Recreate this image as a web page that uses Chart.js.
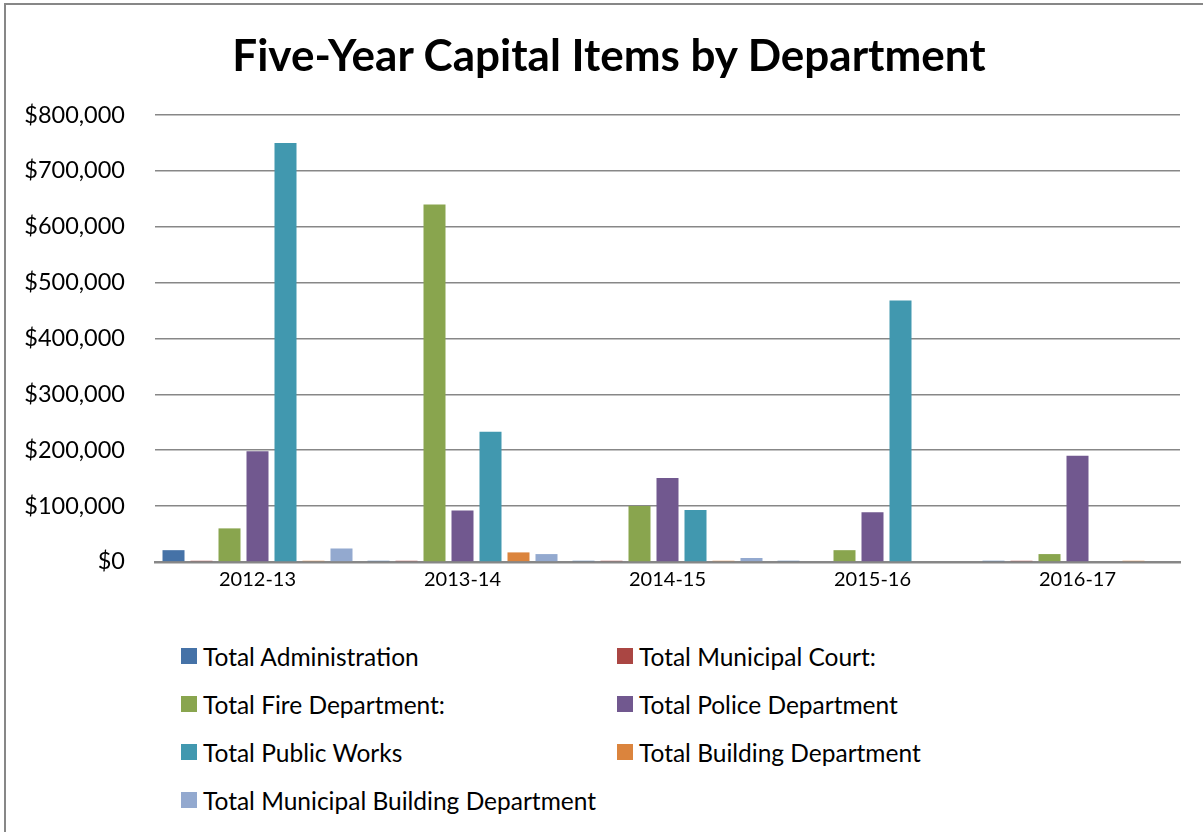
<!DOCTYPE html>
<html lang="en">
<head>
    <meta charset="UTF-8">
    <title>Five-Year Capital Items by Department</title>
    <script src="https://cdn.jsdelivr.net/npm/chart.js"></script>
    <style>
        body {
            margin: 0;
            background: #ffffff;
            overflow: hidden;
            font-family: Lato, sans-serif;
        }

        .frame {
            position: absolute;
            left: 4px;
            top: 3px;
            width: 1220px;
            height: 850px;
            border: 2px solid #878787;
            box-sizing: border-box;
        }

        .chart-title {
            position: absolute;
            left: 0;
            top: 28px;
            width: 1218px;
            margin: 0;
            text-align: center;
            font-size: 44px;
            line-height: 53px;
            font-weight: bold;
            color: #000;
        }

        .chart-box {
            position: absolute;
            left: 0;
            top: 0;
            width: 1203px;
            height: 606px;
        }

        .legend {
            position: absolute;
            left: 0;
            top: 0;
        }

        .legend-item {
            position: absolute;
            display: flex;
            align-items: center;
            height: 30px;
            font-size: 24.5px;
            color: #000;
            white-space: nowrap;
        }

        .legend-item .swatch {
            width: 16px;
            height: 16px;
            margin-right: 6px;
        }
    </style>
</head>
<body>
    <div class="frame"></div>
    <div class="chart-box">
        <canvas id="capitalChart"></canvas>
    </div>
    <h1 class="chart-title">Five-Year Capital Items by Department</h1>
    <div class="legend" id="legend"></div>

    <script>
        // fiscal years
        const years = ['2012-13', '2013-14', '2014-15', '2015-16', '2016-17'];

        // department totals
        const administration = [21000, 2000, 2000, 2000, 2000];
        const municipalCourt = [2000, 2000, 2000, 0, 2000];
        const fireDept = [60000, 640000, 100000, 21000, 14000];
        const policeDept = [198000, 92000, 150000, 89000, 190000];
        const publicWorks = [750000, 233000, 93000, 468000, 0];
        const buildingDept = [2000, 17000, 2000, 0, 2000];
        const municipalBuilding = [24000, 14000, 7000, 0, 0];

        const yTicks = [0, 100000, 200000, 300000, 400000, 500000, 600000, 700000, 800000];

        const series = [
            { label: 'Total Administration', data: administration, color: '#4572A7' },
            { label: 'Total Municipal Court:', data: municipalCourt, color: '#AA4643' },
            { label: 'Total Fire Department:', data: fireDept, color: '#89A54E' },
            { label: 'Total Police Department', data: policeDept, color: '#71588F' },
            { label: 'Total Public Works', data: publicWorks, color: '#4198AF' },
            { label: 'Total Building Department', data: buildingDept, color: '#DB843D' },
            { label: 'Total Municipal Building Department', data: municipalBuilding, color: '#93A9CF' }
        ];

        const ctx = document.getElementById('capitalChart').getContext('2d');
        const capitalChart = new Chart(ctx, {
            type: 'bar',
            data: {
                labels: years,
                datasets: series.map(s => ({
                    label: s.label,
                    data: s.data,
                    backgroundColor: s.color,
                    borderWidth: 0,
                    categoryPercentage: 0.956,
                    barPercentage: 0.786
                }))
            },
            options: {
                responsive: true,
                maintainAspectRatio: false,
                animation: false,
                layout: {
                    padding: { left: 0, right: 23, top: 115, bottom: 0 }
                },
                plugins: {
                    legend: { display: false },
                    tooltip: { enabled: false },
                    title: { display: false }
                },
                scales: {
                    x: {
                        grid: { display: false, drawTicks: false },
                        border: { display: true, color: '#878787', width: 2.5 },
                        ticks: {
                            color: '#000',
                            padding: 6,
                            font: { family: 'Lato', size: 20 }
                        },
                        afterFit: scale => { scale.height = 37; }
                    },
                    y: {
                        min: 0,
                        max: 800000,
                        afterBuildTicks: scale => {
                            scale.ticks = yTicks.map(v => ({ value: v }));
                        },
                        grid: { color: '#878787', lineWidth: 1.5, drawTicks: false },
                        border: { display: false },
                        ticks: {
                            color: '#000',
                            padding: 30,
                            font: { family: 'Lato', size: 23.5 },
                            callback: v => '$' + v.toLocaleString('en-US')
                        },
                        afterFit: scale => { scale.width = 155; }
                    }
                }
            }
        });

        // legend in two columns, built from the datasets
        const legend = document.getElementById('legend');
        const colLeft = [181, 617];
        const rowTop = 656;
        const rowGap = 48;
        series.forEach((s, i) => {
            const item = document.createElement('div');
            item.className = 'legend-item';
            item.style.left = colLeft[i % 2] + 'px';
            item.style.top = (rowTop + Math.floor(i / 2) * rowGap - 15) + 'px';
            const sw = document.createElement('span');
            sw.className = 'swatch';
            sw.style.background = s.color;
            const txt = document.createElement('span');
            txt.textContent = s.label;
            item.appendChild(sw);
            item.appendChild(txt);
            legend.appendChild(item);
        });
    </script>
</body>
</html>
